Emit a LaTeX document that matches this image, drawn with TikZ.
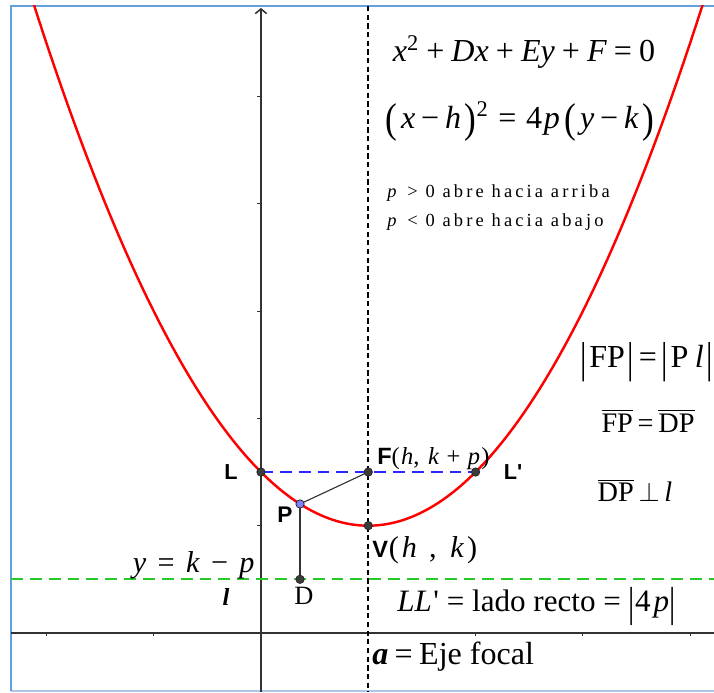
\documentclass[tikz,border=0pt]{standalone}
\usepackage{fontspec}
\usepackage{graphicx}
\setmainfont{Liberation Serif}
\newfontfamily\labfont{Liberation Sans}
\newfontfamily\spfont{Liberation Serif}[LetterSpace=17]
\usetikzlibrary{arrows.meta}
\definecolor{framec}{RGB}{100,160,220}
\definecolor{framelt}{RGB}{170,200,230}
\definecolor{axisc}{RGB}{50,50,50}
\definecolor{parc}{RGB}{255,0,0}
\definecolor{llc}{RGB}{40,40,255}
\definecolor{dirc}{RGB}{40,200,40}
\definecolor{ptc}{RGB}{60,60,60}
\definecolor{ptpc}{RGB}{128,128,255}
\newcommand{\tallp}[1]{\raisebox{-0.3ex}{\scalebox{1.1}[1.3]{#1}}}
\newcommand{\tallbar}{\raisebox{-0.3ex}{\scalebox{1}[1.35]{|}}}
\newcommand{\mi}[1]{\textit{#1}}
\newcommand{\ovl}[1]{$\overline{\hbox{#1}}$}
\newcommand{\gp}[1]{\kern#1em}
\tikzset{
  lab/.style={font=\labfont\bfseries\fontsize{12}{12}\selectfont, inner sep=0pt},
  eqtext/.style={font=\fontsize{16}{19}\selectfont, inner sep=0pt},
  ptdot/.style={circle, fill=ptc, draw=black!85, line width=0.4pt, inner sep=0pt, minimum size=4.4pt},
  ptdotP/.style={circle, fill=ptpc, draw=black!85, line width=0.4pt, inner sep=0pt, minimum size=4.4pt},
  axisline/.style={draw=axisc, line width=0.8pt},
  seg/.style={draw=axisc, line width=0.6pt},
}
\begin{document}
\begin{tikzpicture}[x=2cm,y=2cm]
\useasboundingbox (-2.432,-0.550) rectangle (4.222,5.899);
\fill[white] (-2.432,-0.550) rectangle (4.222,5.899);
% frame
\draw[framelt, line width=0.8pt] (-2.330,-0.541) -- (4.222,-0.541);
\draw[framec, line width=1.2pt] (4.222,5.843) -- (-2.330,5.843) -- (-2.330,-0.541);
% axes
\coordinate (xl) at (-2.33,0);
\coordinate (xr) at (4.222,0);
\coordinate (yb) at (0,-0.55);
\coordinate (yt) at (0,5.825);
\draw[axisline] (xl) -- (xr);
\draw[axisline, -{Straight Barb[length=2.5pt,width=6pt]}] (yb) -- (yt);
\foreach \t in {1,...,5} \draw[axisline, line width=0.6pt] (0,\t) -- (-0.04,\t);
\foreach \t in {-2,-1,1,2,3,4} \draw[axisline, line width=0.6pt] (\t,0) -- (\t,-0.03);
% directrix and focal axis
\coordinate (dl) at (-2.33,0.5);
\coordinate (dr) at (4.222,0.5);
\draw[dirc, line width=1pt, dash pattern=on 6.3pt off 3.7pt] (dl) -- (dr);
\coordinate (at) at (1,5.843);
\coordinate (ab) at (1,-0.55);
\draw[black, line width=1pt, dash pattern=on 2.8pt off 1.8pt] (at) -- (ab);
% parabola
\begin{scope}
\clip (-2.33,-0.55) rectangle (4.222,5.843);
\draw[parc, line width=1.3pt, domain=-2.14:4.14, samples=150, smooth] plot (\x,{1+(\x-1)*(\x-1)/2});
\end{scope}
% key points
\coordinate (L) at (0,1.5);
\coordinate (F) at (1,1.5);
\coordinate (Lp) at (2,1.5);
\coordinate (V) at (1,1);
\coordinate (P) at (0.364,1.2022);
\coordinate (D) at (0.364,0.5);
\draw[llc, line width=0.8pt, dash pattern=on 6.3pt off 3.7pt] (L) -- (Lp);
\draw[seg] (F) -- (P);
\draw[seg] (P) -- (D);
\node[ptdot] (nL) at (L) {};
\node[ptdot] (nF) at (F) {};
\node[ptdot] (nLp) at (Lp) {};
\node[ptdot] (nV) at (V) {};
\node[ptdot] (nD) at (D) {};
\node[ptdotP] (nP) at (P) {};
% point labels
\node[lab, font=\labfont\bfseries\fontsize{11.5}{12}\selectfont] (tL) at (-0.28,1.50) {L};
\node[lab, font=\labfont\bfseries\fontsize{11.5}{12}\selectfont] (tLp) at (2.35,1.50) {L\textquotesingle};
\node[lab] (tP) at (0.224,1.10) {P};
\node[inner sep=0pt, anchor=base west] (tF) at (1.081,1.566) {{\labfont\bfseries\fontsize{12.5}{13}\selectfont F}{\fontsize{13}{14}\selectfont(\gp{0.05}\mi{h},\gp{0.35}\mi{k}\gp{0.3}+\gp{0.3}\mi{p}\gp{0.05})}};
\node[inner sep=0pt, anchor=base west] (tV) at (1.034,0.699) {{\labfont\bfseries\fontsize{12.5}{13}\selectfont V}{\fontsize{16}{19}\selectfont\gp{0.03}(\gp{0.1}\mi{h}\gp{0.4},\gp{0.45}\mi{k}\gp{0.1})}};
\node[inner sep=0pt, anchor=base, font=\fontsize{14}{16}\selectfont] (tD) at (0.40,0.261) {D};
\node[eqtext, anchor=base east] (tdir) at (-0.056,0.568) {\mi{y}\gp{0.375}=\gp{0.375}\mi{k}\gp{0.375}−\gp{0.375}\mi{p}};
\node[inner sep=0pt, anchor=base, font=\fontsize{13}{15}\selectfont] (tl) at (-0.326,0.252) {\textbf{\textit{l}}};
\node[eqtext, anchor=base west, font=\fontsize{16.5}{19}\selectfont] (tLL) at (1.267,0.196) {\mi{LL}\gp{0.05}\textquotesingle\gp{0.25}=\gp{0.25}lado recto\gp{0.25}=\gp{0.25}\tallbar4\gp{0.1}\mi{p}\tallbar};
\node[eqtext, anchor=base west, font=\fontsize{17}{19}\selectfont] (ta) at (1.034,-0.298) {\textbf{\textit{a}}\gp{0.2}=\gp{0.2}Eje focal};
% equations
\node[eqtext, anchor=base, font=\fontsize{17}{19}\selectfont] (eq1) at (2.451,5.322) {\mi{x}\textsuperscript{2}\gp{0.22}+\gp{0.22}\mi{Dx}\gp{0.22}+\gp{0.22}\mi{Ey}\gp{0.22}+\gp{0.22}\mi{F}\gp{0.22}=\gp{0.22}0};
\node[eqtext, anchor=base, font=\fontsize{17}{19}\selectfont] (eq2) at (2.414,4.706) {\tallp{(}\gp{0.12}\mi{x}\gp{0.18}−\gp{0.18}\mi{h}\gp{0.12}\tallp{)}\textsuperscript{2}\gp{0.3}=\gp{0.3}4\gp{0.05}\mi{p}\gp{0.15}\tallp{(}\gp{0.12}\mi{y}\gp{0.18}−\gp{0.18}\mi{k}\gp{0.12}\tallp{)}};
\node[inner sep=0pt, anchor=base west, font=\spfont\fontsize{9.8}{11}\selectfont] (s1) at (1.174,4.063) {\mi{p} > 0 abre hacia arriba};
\node[inner sep=0pt, anchor=base west, font=\spfont\fontsize{9.8}{11}\selectfont] (s2) at (1.174,3.784) {\mi{p} < 0 abre hacia abajo};
\node[inner sep=0pt, anchor=base west, font=\fontsize{17}{19}\selectfont] (r1) at (2.973,2.470) {\tallbar\gp{0.08}FP\gp{0.08}\tallbar\gp{0.15}=\gp{0.15}\tallbar\gp{0.08}P\gp{0.2}\mi{l}\gp{0.08}\tallbar};
\node[inner sep=0pt, anchor=base, font=\fontsize{15}{17}\selectfont] (r2) at (3.607,1.873) {\ovl{FP}\,=\,\ovl{DP}};
\node[inner sep=0pt, anchor=base, font=\fontsize{15}{17}\selectfont] (r3) at (3.485,1.221) {\ovl{DP}\,$\perp$\,\mi{l}};
\end{tikzpicture}
\end{document}
